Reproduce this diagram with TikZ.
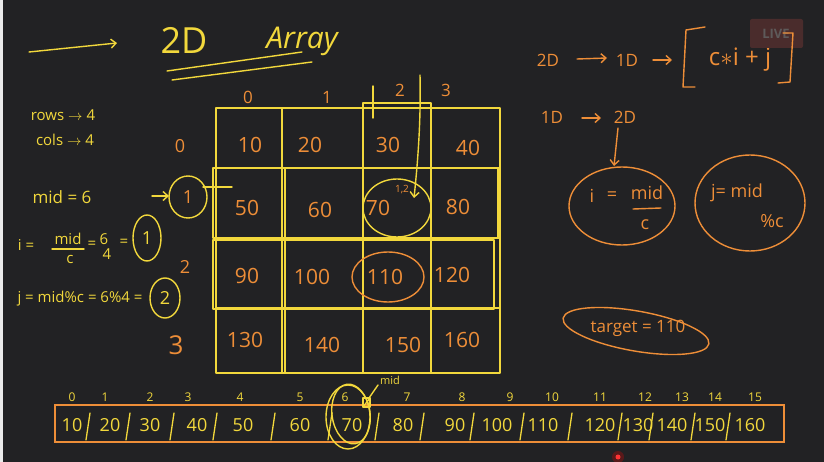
\documentclass[tikz,border=0pt]{standalone}
\usepackage{fontspec}
\setmainfont{Open Sans}
\usetikzlibrary{arrows.meta,calc}
\definecolor{bg}{HTML}{222224}
\definecolor{yel}{HTML}{F2D83C}
\definecolor{org}{HTML}{EE8E38}
\definecolor{livebg}{HTML}{4A2C2C}
\definecolor{livetx}{HTML}{5E5A5A}
\begin{document}
\begin{tikzpicture}[x=1pt,y=-1pt,
  yt/.style={text=yel,inner sep=0pt,font=\fontsize{15}{15}\selectfont},
  ot/.style={text=org,inner sep=0pt,font=\fontsize{16}{16}\selectfont},
  yl/.style={draw=yel,line width=1.4pt,line cap=round,line join=round},
  ol/.style={draw=org,line width=1.4pt,line cap=round,line join=round},
  barb/.style={-{Straight Barb[length=5pt,width=9pt]}},
  sep/.style={draw=yel,line width=1.3pt,line cap=round}]
\fill[bg] (0,0) rectangle (824,462);
\useasboundingbox (0,0) rectangle (824,462);
\fill[white!92!black] (0,0) rectangle (2.5,462);

% ---------- title ----------
\coordinate (ta1) at (29,52); \coordinate (ta2) at (117,43);
\draw[yl,barb] (ta1) -- (ta2);
\node[yt,font=\fontsize{36}{36}\selectfont] (t2d) at (184,40) {2D};
\node[yt,font=\itshape\fontsize{30}{30}\selectfont] (tarr) at (302,41) {Array};
\coordinate (u1a) at (167,71); \coordinate (u1b) at (302,52);
\coordinate (u2a) at (172,80); \coordinate (u2b) at (312,62);
\draw[yl] (u1a) -- (u1b);
\draw[yl] (u2a) -- (u2b);

% ---------- left notes ----------
\node[yt] (rows) at (63,115) {rows $\to$ 4};
\node[yt] (cols) at (65,140) {cols $\to$ 4};
\node[yt,font=\fontsize{17}{17}\selectfont] (mid) at (62,197) {mid = 6};

\node[yt] (ii) at (26,245) {i =};
\node[yt] (inum) at (68,239) {mid};
\node[yt] (iden) at (70,259) {c};
\draw[yl] (52,249) -- (84,249);
\node[yt] (ieq2) at (92,245) {=};
\node[yt] (isix) at (104,239) {6};
\node[yt] (ifour) at (107,254) {4};
\node[yt] (ieq3) at (124,243) {=};
\node[yt,font=\fontsize{18}{18}\selectfont] (ione) at (147,238) {1};
\draw[yl] (ione) ellipse [x radius=14,y radius=23];

\node[yt] (jline) at (80,299) {j = mid\%c = 6\%4 =};
\node[yt,font=\fontsize{18}{18}\selectfont] (jtwo) at (165,298) {2};
\draw[yl] (jtwo) ellipse [x radius=15,y radius=20];

% ---------- row / column labels ----------
\node[ot,font=\fontsize{18}{18}\selectfont] (r0) at (180,146) {0};
\node[ot,font=\fontsize{18}{18}\selectfont] (r1) at (188,197) {1};
\node[ot,font=\fontsize{18}{18}\selectfont] (r2) at (185,267) {2};
\node[ot,font=\fontsize{26}{26}\selectfont] (r3) at (176,345) {3};
\draw[yl] (r1) ellipse [x radius=19,y radius=21];
\coordinate (mar1) at (152,196); \coordinate (mar2) at (169,196);
\draw[yl,barb] (mar1) -- (mar2);
\coordinate (ml1) at (203,187); \coordinate (ml2) at (232,187);
\draw[yl] (ml1) -- (ml2);

\node[ot,font=\fontsize{17}{17}\selectfont] (c0) at (248,97) {0};
\node[ot,font=\fontsize{17}{17}\selectfont] (c1) at (327,97) {1};
\node[ot,font=\fontsize{17}{17}\selectfont] (c2) at (400,90) {2};
\node[ot,font=\fontsize{17}{17}\selectfont] (c3) at (446,90) {3};

% ---------- grid ----------
\draw[yl] (216,108) rectangle (500,373);
\draw[yl] (282,108) -- (282,373);
\draw[yl] (285,168) -- (285,373);
\draw[yl] (363,108) -- (363,373);
\draw[yl] (431,108) -- (431,373);
\draw[yl] (216,168) -- (500,168);
\draw[yl] (216,238) -- (500,238);
\draw[yl] (216,308) -- (500,308);
\draw[yl] (213,168) rectangle (498,238);
\draw[yl] (213,240) rectangle (494,309);
\draw[yl] (363,103) rectangle (431,373);
\draw[yl] (373,86) -- (373,118);

\foreach \v/\x/\y [count=\k] in {10/250/145,20/310/145,30/388/145,40/468/148,
  50/247/208,60/320/210,70/378/208,80/458/207,
  90/247/276,100/312/277,110/385/277,120/452/275,
  130/245/340,140/322/345,150/403/345,160/462/340}
  \node[ot,font=\fontsize{21}{21}\selectfont] (g\k) at (\x,\y) {\v};

\node[ot,font=\fontsize{10}{10}\selectfont] (idx) at (402,190) {1,2};
\draw[yl] (g7) ++(19,0) ellipse [x radius=34,y radius=29];
\draw[ol] (g11) ++(3,0) ellipse [x radius=36,y radius=25];
\coordinate (arrs) at (420,75);
\coordinate (arre) at (414,198);
\draw[yl,barb] (arrs) .. controls (421,120) and (418,160) .. (arre);

% ---------- right side ----------
\node[ot,font=\fontsize{17}{17}\selectfont] (r2d) at (548,60) {2D};
\node[ot,font=\fontsize{17}{17}\selectfont] (r1d) at (627,60) {1D};
\coordinate (la1) at (577,59); \coordinate (la2) at (607,58);
\draw[ol,barb] (la1) -- (la2);
\coordinate (ra1) at (653,60); \coordinate (ra2) at (672,60);
\draw[ol,barb] (ra1) -- (ra2);
\draw[ol] (705,27) -- (686,30) -- (683,87) -- (695,87);
\node[ot,font=\fontsize{24}{24}\selectfont] (form) at (740,60) {c$\ast$i + j};

\node[ot,font=\fontsize{17}{17}\selectfont] (s1d) at (552,117) {1D};
\node[ot,font=\fontsize{17}{17}\selectfont] (s2d) at (625,117) {2D};
\coordinate (sa1) at (582,118); \coordinate (sa2) at (601,118);
\draw[ol,barb] (sa1) -- (sa2);

\coordinate (da1) at (618,128);
\coordinate (da2) at (614,166);
\draw[ol,barb] (da1) -- (da2);

\draw[ol] (622,206) ellipse [x radius=53,y radius=39];
\node[ot,font=\fontsize{18}{18}\selectfont] (ri) at (592,196) {i};
\node[ot,font=\fontsize{18}{18}\selectfont] (req) at (612,196) {=};
\node[ot,font=\fontsize{18}{18}\selectfont] (rmid) at (647,193) {mid};
\draw[ol] (633,209) -- (661,208);
\node[ot,font=\fontsize{18}{18}\selectfont] (rc) at (645,225) {c};

\draw[ol] (750,203) ellipse [x radius=55,y radius=48];
\node[ot,font=\fontsize{18}{18}\selectfont] (rj) at (737,193) {j= mid};
\node[ot,font=\fontsize{18}{18}\selectfont] (rpc) at (772,221) {\%c};

\node[ot,font=\fontsize{17}{17}\selectfont] (targ) at (638,328) {target = 110};
\draw[ol,rotate around={-10:(636,331)}] (636,331) ellipse [x radius=74,y radius=20];

% LIVE badge
\fill[livebg,rounded corners=2pt] (750,19) rectangle (803,48);
\node[text=livetx,inner sep=0pt,font=\bfseries\fontsize{13}{13}\selectfont] (live) at (776,34) {LIVE};
\draw[ol] (783,33) -- (793,33) -- (790,82) -- (778,83);

% ---------- 1D array ----------
\draw[draw=org,line width=1.5pt] (55,405) rectangle (784,442);
\foreach \v/\x [count=\k] in {10/72,20/110,30/150,40/197,50/243,60/300,70/352,80/403,
  90/455,100/497,110/543,120/600,130/638,140/672,150/710,160/750}
  \node[yt,font=\fontsize{18}{18}\selectfont] (b\k) at (\x,425) {\v};
\foreach \x in {88,128,172,215,273,330,377,422,472,522,570,620,651,693,728}
  \draw[sep] (\x+2,413) -- (\x-2,440);
\foreach \v/\x [count=\k] in {0/72,1/105,2/150,3/188,4/240,5/300,6/345,7/407,
  8/462,9/510,10/552,11/600,12/645,13/682,14/715,15/755}
  \node[yt,font=\fontsize{12}{12}\selectfont] (n\k) at (\x,397) {\v};

\draw[yl] (348,417) ellipse [x radius=22,y radius=32];
\draw[yl,rotate around={8:(351,414)}] (351,414) ellipse [x radius=19,y radius=30];
\draw[yl] (363,398) rectangle (370,407);
\draw[yl] (363,407) -- (370,398);
\node[yt,font=\fontsize{11}{11}\selectfont] (bmid) at (390,380) {mid};
\coordinate (bm1) at (369,398); \coordinate (bm2) at (378,385);
\draw[yl] (bm1) -- (bm2);

% pointer dot
\fill[red,opacity=0.25] (618,457) circle (6);
\fill[red!80!white] (618,457) circle (2.5);
\end{tikzpicture}
\end{document}
